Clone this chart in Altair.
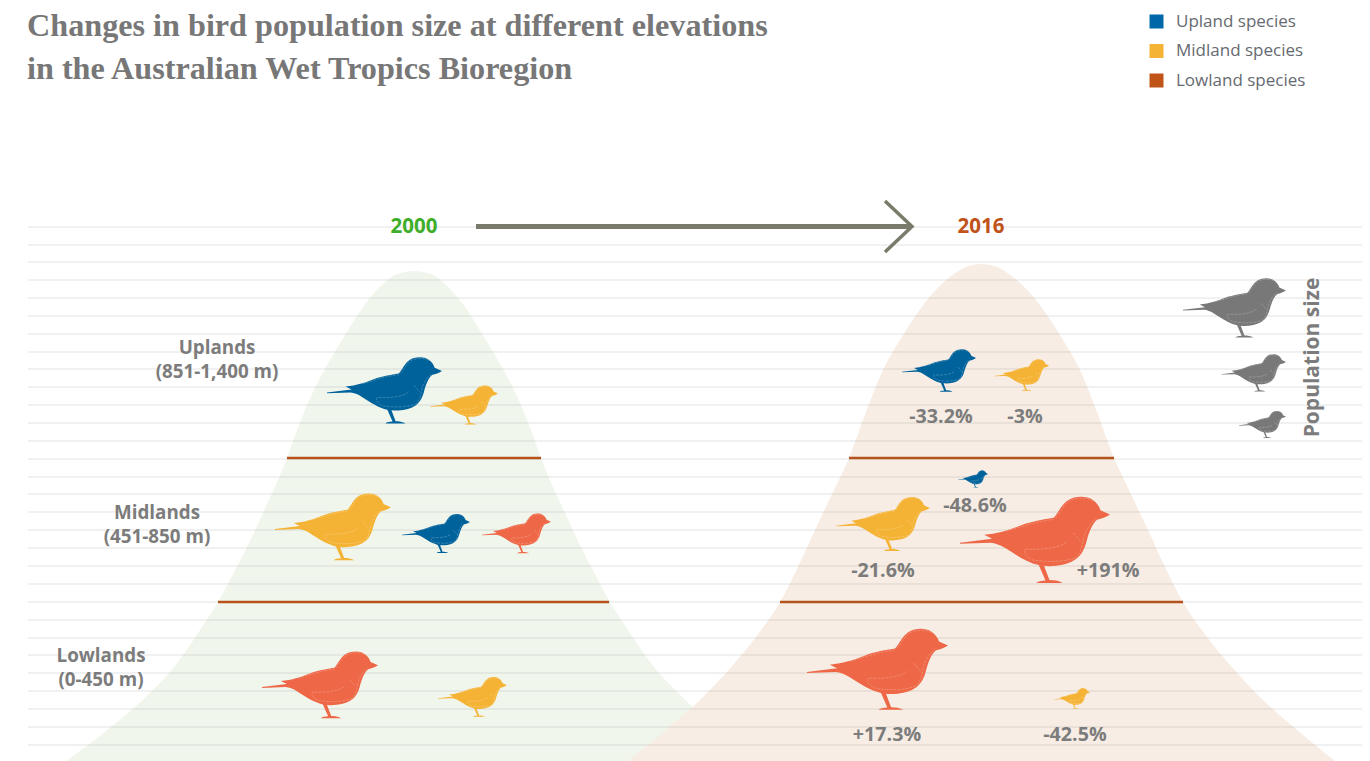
import altair as alt
import pandas as pd

# ---- data (in picture units) ----
title_lines = ["Changes in bird population size at different elevations",
               "in the Australian Wet Tropics Bioregion"]
legend_names = ["Upland species", "Midland species", "Lowland species"]
legend_colors = ["#0068a8", "#f5b335", "#c05418"]

UP, MID, LOW, GREY = "#00629b", "#f5b335", "#ee6746", "#787878"
bird_x = [384.5, 464, 333, 436, 516.5, 320, 472.5, 939, 1021.5, 973, 883, 1035, 877.5, 1072, 1234.5, 1253.5, 1262.5]
bird_y = [390.5, 405, 527, 533.5, 533.5, 685, 697, 370.5, 375, 479, 524, 540, 669.5, 698.5, 308, 373, 424.5]
bird_w = [115, 68, 116, 68, 69, 116, 69, 74, 55, 30, 94, 150, 141, 36, 103, 65, 47]
bird_c = [UP, MID, MID, UP, LOW, LOW, MID, UP, MID, UP, MID, LOW, LOW, MID, GREY, GREY, GREY]

grid_y = [227, 245, 262, 280, 298, 316, 334, 352, 369, 387, 405, 423, 441, 459, 477,
          494, 512, 530, 548, 566, 584, 602, 620, 638, 655, 673, 691, 709, 727, 745]

m1_x = [66, 116, 150, 174, 198, 218, 231, 247, 263, 287, 297, 313, 330, 347, 363, 380, 397, 414,
        431, 448, 465, 481, 498, 515, 531, 541, 565, 581, 597, 610, 630, 654, 678, 712, 762]
m1_y = [761, 723, 693, 667, 633, 602, 578, 547, 513, 458, 430, 392, 360, 332, 307, 287, 274, 271,
        274, 287, 307, 332, 360, 392, 430, 458, 513, 547, 578, 602, 633, 667, 693, 723, 761]
m2_x = [628, 666, 700, 733, 756, 780, 798, 815, 832.5, 849, 866, 883, 900, 916, 933, 950, 966, 981.5,
        997, 1013, 1030, 1047, 1063, 1080, 1097, 1114, 1130.5, 1148, 1165, 1183, 1207, 1230, 1263, 1297, 1335]
m2_y = [761, 730, 700, 665, 637, 602, 567, 530, 493, 458, 412, 370, 340, 315, 293, 277, 267, 264,
        267, 277, 293, 315, 340, 370, 412, 458, 493, 530, 567, 602, 637, 665, 700, 730, 761]

divider_y = [458, 458, 602, 602]
divider_x = [287, 849, 218, 780]
divider_x2 = [541, 1114, 609, 1183]

arrow_x = [476, 912]
arrow_y = [226.5, 226.5]
head_x = [885, 912, 885]
head_y = [201, 226.5, 252]

year_text = ["2000", "2016"]
year_x = [414, 981]
year_y = [226.5, 226.5]
year_c = ["#3fae2a", "#c0521a"]

zone_text = ["Uplands", "(851-1,400 m)", "Midlands", "(451-850 m)", "Lowlands", "(0-450 m)"]
zone_x = [217, 217, 157, 157, 101, 101]
zone_y = [348, 372, 513, 537, 656, 680]

pct_text = ["-33.2%", "-3%", "-48.6%", "-21.6%", "+191%", "+17.3%", "-42.5%"]
pct_x = [941, 1025, 975, 883, 1108, 887, 1075]
pct_y = [417, 417, 506, 571, 571, 735, 735]


# ---- bird symbol (outline in reference pixels of a large bird, normalised to [-1, 1]) ----
def norm(cmds):
    out = []
    for c, pts in cmds:
        s = c
        s += " ".join(f"{(x - 232.5) / 210.5:.4f},{(y - 149.5) / 210.5:.4f}" for x, y in pts)
        out.append(s)
    return "".join(out)


BODY = norm([
    ("M", [(22, 157)]), ("L", [(112, 146)]), ("L", [(90, 135)]),
    ("C", [(130, 132), (165, 120), (205, 104)]),
    ("C", [(235, 95), (265, 90), (285, 87)]),
    ("C", [(297, 75), (303, 55), (322, 40)]),
    ("C", [(340, 26), (375, 24), (393, 36)]),
    ("C", [(405, 44), (413, 55), (416, 66)]),
    ("L", [(443, 78)]),
    ("C", [(430, 86), (420, 90), (408, 92)]),
    ("C", [(395, 100), (385, 125), (378, 150)]),
    ("C", [(372, 175), (362, 195), (340, 208)]),
    ("C", [(320, 220), (285, 225), (258, 222)]),
    ("L", [(273, 262)]),
    ("C", [(285, 262), (300, 264), (310, 270)]),
    ("L", [(236, 270)]),
    ("C", [(240, 265), (250, 264), (262, 263)]),
    ("L", [(243, 220)]),
    ("C", [(210, 212), (185, 195), (150, 173)]),
    ("C", [(135, 163), (120, 158), (108, 157)]),
    ("L", [(22, 160)]),
]) + "Z"

INNER = norm([
    ("M", [(340, 130)]), ("L", [(362, 155)]),
    ("M", [(320, 155)]), ("C", [(305, 170), (260, 178), (205, 175)]),
    ("C", [(200, 185), (205, 195), (225, 205)]),
    ("C", [(260, 212), (310, 212), (345, 200)]),
    ("C", [(360, 190), (365, 170), (370, 140)]),
    ("C", [(375, 120), (390, 100), (405, 88)]),
    ("M", [(290, 87)]), ("C", [(305, 70), (315, 45), (335, 37)]),
    ("C", [(355, 30), (380, 30), (395, 40)]),
    ("M", [(150, 125)]), ("C", [(190, 115), (240, 95), (285, 92)]),
])

xs = alt.Scale(domain=[8, 1362], nice=False, zero=False)
ys = alt.Scale(domain=[761, 8], nice=False, zero=False)
X = lambda f="x": alt.X(f"{f}:Q", scale=xs, axis=None)
Y = lambda f="y": alt.Y(f"{f}:Q", scale=ys, axis=None)

FONT = "Open Sans"
TXT = "#7c7c7c"

mount1 = alt.Chart(pd.DataFrame({"x": m1_x, "y": m1_y, "b": 761})).mark_area(
    color="#f1f6ed", interpolate="monotone", opacity=1
).encode(X(), Y(), y2="b:Q")
mount2 = alt.Chart(pd.DataFrame({"x": m2_x, "y": m2_y, "b": 761})).mark_area(
    color="#f7ede4", interpolate="monotone", opacity=1
).encode(X(), Y(), y2="b:Q")

grid = alt.Chart(pd.DataFrame({"y": grid_y, "x": 28, "x2": 1362})).mark_rule(
    color="#000000", opacity=0.055, strokeWidth=2
).encode(X(), alt.X2("x2:Q"), Y())

dividers = alt.Chart(pd.DataFrame({"x": divider_x, "x2": divider_x2, "y": divider_y})).mark_rule(
    color="#b5531c", strokeWidth=2.6
).encode(X(), alt.X2("x2:Q"), Y())

arrow = alt.Chart(pd.DataFrame({"x": arrow_x, "y": arrow_y})).mark_line(
    color="#7a7b6b", strokeWidth=5
).encode(X(), Y())
head = alt.Chart(pd.DataFrame({"x": head_x, "y": head_y, "o": [0, 1, 2]})).mark_line(
    color="#7a7b6b", strokeWidth=3.5, strokeJoin="miter"
).encode(X(), Y(), order="o:Q")

birds_df = pd.DataFrame({"x": bird_x, "y": bird_y, "w": bird_w, "c": bird_c})
birds_df["s"] = birds_df["w"] ** 2
birds = alt.Chart(birds_df).mark_point(
    shape=BODY, filled=True, opacity=1, strokeWidth=0
).encode(X(), Y(), alt.Size("s:Q", scale=None, legend=None), alt.Fill("c:N", scale=None, legend=None))
inner = alt.Chart(birds_df).mark_point(
    shape=INNER, filled=False, opacity=0.3, stroke="#ffffff", strokeWidth=0.7, strokeDash=[3, 1]
).encode(X(), Y(), alt.Size("s:Q", scale=None, legend=None))

years = alt.Chart(pd.DataFrame({"x": year_x, "y": year_y, "t": year_text, "c": year_c})).mark_text(
    font=FONT, fontSize=20.5, fontWeight=700
).encode(X(), Y(), text="t:N", fill=alt.Fill("c:N", scale=None, legend=None))
zones = alt.Chart(pd.DataFrame({"x": zone_x, "y": zone_y, "t": zone_text})).mark_text(
    font=FONT, fontSize=18.8, fontWeight=700, color=TXT
).encode(X(), Y(), text="t:N")
pcts = alt.Chart(pd.DataFrame({"x": pct_x, "y": pct_y, "t": pct_text})).mark_text(
    font=FONT, fontSize=19.7, fontWeight=700, color=TXT
).encode(X(), Y(), text="t:N")
popsize = alt.Chart(pd.DataFrame({"x": [1313], "y": [357.5], "t": ["Population size"]})).mark_text(
    font=FONT, fontSize=21, fontWeight=700, color=TXT, angle=270
).encode(X(), Y(), text="t:N")

legend_layer = alt.Chart(pd.DataFrame({"n": legend_names, "x": [20] * 3, "y": [20] * 3})).mark_square(
    size=0, opacity=1
).encode(
    X(), Y(),
    alt.Color("n:N", title=None, sort=legend_names,
              scale=alt.Scale(domain=legend_names, range=legend_colors),
              legend=alt.Legend(orient="none", legendX=1140, legendY=5, symbolType="square",
                                symbolSize=196, symbolOpacity=1, labelFont=FONT, labelFontSize=17,
                                labelColor="#666a70", labelOffset=11, rowPadding=11.5,
                                symbolStrokeWidth=0)),
)

chart = alt.layer(
    mount1, mount2, grid, dividers, arrow, head, birds, inner, years, zones, pcts, popsize, legend_layer
).properties(
    width=1354, height=753, padding=0, autosize=alt.AutoSizeParams(type="none"),
    title=alt.Title(text=title_lines, anchor="start", frame="group", font="Liberation Serif",
                    fontSize=32.2, fontWeight="bold", color="#777777", lineHeight=43,
                    baseline="top", offset=0, dx=19, dy=78)
).configure_view(stroke=None)

chart.save("out.html", embed_options={"renderer": "svg", "actions": False})
